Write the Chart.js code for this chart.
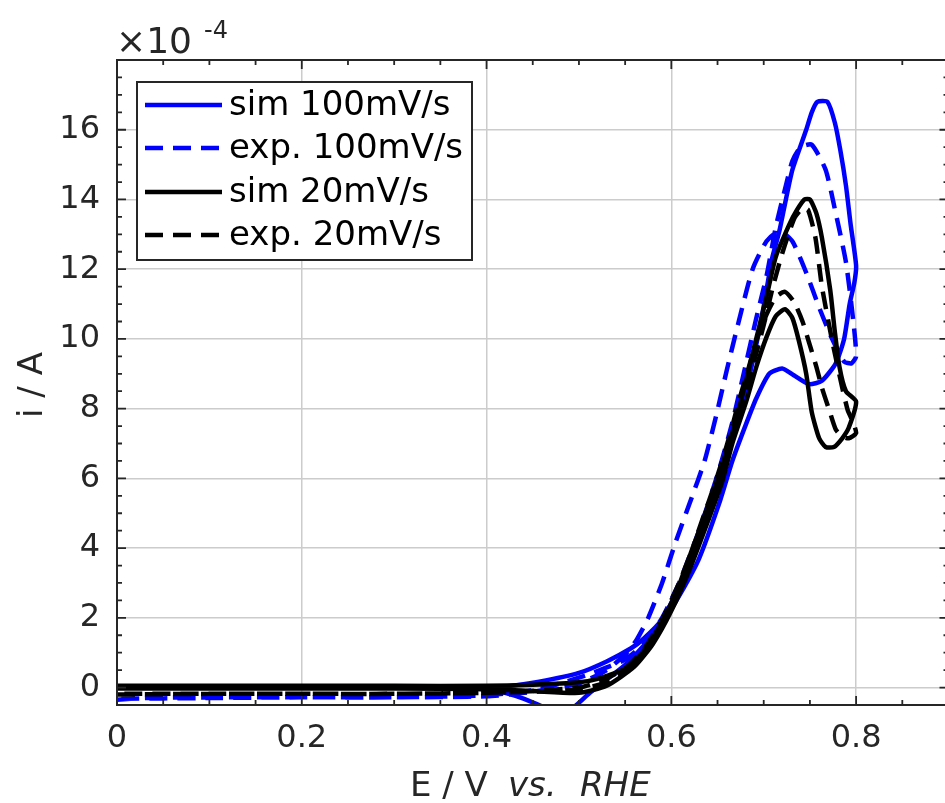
<!DOCTYPE html>
<html>
<head>
<meta charset="utf-8">
<script src="https://cdn.jsdelivr.net/npm/chart.js@4.4.0/dist/chart.umd.min.js"></script>
<style>
  html, body { margin: 0; padding: 0; background: #fff; overflow: hidden; }
  #wrap { width: 955px; height: 803px; }
</style>
</head>
<body>
<div id="wrap"><canvas id="cv" width="955" height="803"></canvas></div>
<script>
// current values are in units of 1e-4 A (see the x10^-4 label)
const xTicks = [0, 0.2, 0.4, 0.6, 0.8];
const yTicks = [0, 2, 4, 6, 8, 10, 12, 14, 16];
const labels = ["sim 100mV/s", "exp. 100mV/s", "sim 20mV/s", "exp. 20mV/s"];

// [E (V), i (1e-4 A)]
const sim100 = [[0,0],[0.1,0],[0.2,0],[0.3,0],[0.38,-0.02],[0.4,-0.05],[0.42,-0.15],[0.44,-0.32],[0.465,-0.6],[0.48,-0.8],[0.495,-0.55],[0.511,-0.17],[0.53,0.23],[0.55,0.65],[0.57,1.2],[0.59,1.85],[0.61,2.7],[0.63,3.7],[0.652,5.3],[0.666,6.5],[0.68,7.5],[0.692,8.3],[0.706,9.0],[0.72,9.15],[0.733,8.95],[0.749,8.7],[0.763,8.8],[0.778,9.3],[0.787,10.0],[0.793,11.0],[0.798,11.6],[0.8,12.1],[0.794,13.3],[0.789,14.4],[0.783,15.4],[0.777,16.2],[0.769,16.8],[0.758,16.8],[0.752,16.5],[0.746,16.0],[0.731,14.85],[0.724,14.0],[0.717,13.1],[0.709,12.3],[0.703,11.4],[0.697,10.5],[0.685,9.0],[0.67,7.5],[0.65,5.8],[0.63,4.3],[0.61,3.0],[0.59,1.95],[0.57,1.4],[0.556,1.12],[0.53,0.75],[0.5,0.42],[0.457,0.17],[0.42,0.03],[0.4,0],[0.3,0],[0.2,0],[0.1,0],[0,0]];
const exp100 = [[0,-0.35],[0.03,-0.3],[0.1,-0.28],[0.2,-0.28],[0.3,-0.28],[0.4,-0.25],[0.45,-0.12],[0.5,0.12],[0.53,0.5],[0.55,0.95],[0.562,1.35],[0.575,2.0],[0.59,3.0],[0.605,4.2],[0.62,5.3],[0.636,6.5],[0.649,7.85],[0.66,9.1],[0.672,10.4],[0.688,12.0],[0.703,12.8],[0.717,13.1],[0.731,12.8],[0.746,11.9],[0.76,10.9],[0.774,10.0],[0.787,9.35],[0.795,9.3],[0.8,9.5],[0.797,10.5],[0.789,12.2],[0.778,13.6],[0.767,14.85],[0.752,15.57],[0.74,15.5],[0.731,15.1],[0.724,14.4],[0.713,13.2],[0.703,11.8],[0.692,10.6],[0.68,9.2],[0.666,7.6],[0.65,6.1],[0.63,4.5],[0.61,3.1],[0.59,2.0],[0.57,1.25],[0.55,0.8],[0.53,0.58],[0.51,0.37],[0.48,0.12],[0.45,-0.08],[0.4,-0.22],[0.3,-0.28],[0.2,-0.28],[0.1,-0.3],[0,-0.32]];
const sim20 = [[0,-0.03],[0.1,-0.03],[0.2,-0.03],[0.3,-0.03],[0.4,-0.05],[0.45,-0.1],[0.5,-0.15],[0.53,0.05],[0.56,0.6],[0.58,1.25],[0.6,2.2],[0.62,3.4],[0.64,4.8],[0.655,5.9],[0.666,7.0],[0.681,8.2],[0.692,9.2],[0.703,10.05],[0.713,10.65],[0.723,10.85],[0.731,10.6],[0.738,9.95],[0.746,9.0],[0.752,7.9],[0.76,7.15],[0.767,6.9],[0.776,6.9],[0.785,7.15],[0.792,7.45],[0.8,8.2],[0.789,8.5],[0.782,9.2],[0.777,10.2],[0.772,11.4],[0.763,12.9],[0.757,13.6],[0.75,14.0],[0.744,14.0],[0.736,13.7],[0.728,13.3],[0.713,12.35],[0.703,11.2],[0.69,9.8],[0.68,8.7],[0.666,7.3],[0.65,5.9],[0.63,4.4],[0.61,3.0],[0.59,1.9],[0.57,1.05],[0.55,0.55],[0.52,0.25],[0.5,0.15],[0.45,0.08],[0.4,0.05],[0.3,0.05],[0.2,0.05],[0.1,0.05],[0,0.05]];
const exp20 = [[0,-0.2],[0.1,-0.18],[0.2,-0.18],[0.3,-0.18],[0.4,-0.15],[0.45,-0.12],[0.5,-0.05],[0.53,0.15],[0.56,0.65],[0.587,1.6],[0.601,2.4],[0.612,3.2],[0.623,4.0],[0.634,4.85],[0.644,5.6],[0.655,6.5],[0.666,7.5],[0.674,8.3],[0.684,9.2],[0.692,9.95],[0.703,10.7],[0.713,11.2],[0.723,11.35],[0.733,11.05],[0.742,10.5],[0.749,9.9],[0.757,9.2],[0.763,8.6],[0.771,7.95],[0.778,7.4],[0.785,7.2],[0.792,7.15],[0.8,7.3],[0.796,7.65],[0.791,7.95],[0.785,8.6],[0.774,9.96],[0.763,11.5],[0.756,12.9],[0.748,13.7],[0.742,13.75],[0.733,13.45],[0.72,12.45],[0.71,11.5],[0.7,10.4],[0.69,9.4],[0.68,8.5],[0.666,7.3],[0.65,6.0],[0.63,4.5],[0.61,3.1],[0.59,1.95],[0.57,1.1],[0.55,0.55],[0.52,0.15],[0.5,0.0],[0.45,-0.1],[0.4,-0.15],[0.3,-0.18],[0.2,-0.18],[0.1,-0.18],[0,-0.18]];

const AXIS = "#262626";
const FONT = "DejaVu Sans";

const toXY = (arr) => arr.map(([x, y]) => ({ x, y }));

function series(label, data, color, dashed, order) {
  return {
    label,
    data: toXY(data),
    borderColor: color,
    backgroundColor: color,
    borderWidth: 4.5,
    borderDash: dashed ? [18, 10] : [],
    borderCapStyle: "butt",
    pointRadius: 0,
    tension: 0.2,
    fill: false,
    clip: 0,
    order,
  };
}

// box, inner ticks, axis titles and the x10^-4 factor
const frame = {
  id: "frame",
  afterDatasetsDraw(chart) {
    const { ctx, chartArea: a, scales: { x, y } } = chart;
    ctx.save();
    ctx.strokeStyle = AXIS;
    ctx.lineWidth = 2;
    ctx.strokeRect(a.left, a.top, a.right - a.left, a.bottom - a.top);

    ctx.lineWidth = 1.8;
    ctx.beginPath();
    for (let k = 0; k <= 18; k++) {
      const px = x.getPixelForValue(k * 0.05);
      const len = k % 4 === 0 ? 9 : 5;
      ctx.moveTo(px, a.bottom); ctx.lineTo(px, a.bottom - len);
      ctx.moveTo(px, a.top); ctx.lineTo(px, a.top + len);
    }
    for (let k = -1; k <= 36; k++) {
      const py = y.getPixelForValue(k * 0.5);
      const len = k % 4 === 0 ? 9 : 5;
      ctx.moveTo(a.left, py); ctx.lineTo(a.left + len, py);
      ctx.moveTo(a.right, py); ctx.lineTo(a.right - len, py);
    }
    ctx.stroke();

    ctx.fillStyle = AXIS;
    ctx.textBaseline = "alphabetic";
    ctx.textAlign = "left";
    ctx.font = `34px "${FONT}"`;
    ctx.fillText("E / V", 410, 796);
    ctx.font = `italic 34px "${FONT}"`;
    ctx.fillText("vs.", 508, 796);
    ctx.fillText("RHE", 580, 796);

    ctx.save();
    ctx.translate(42, 385);
    ctx.rotate(-Math.PI / 2);
    ctx.textAlign = "center";
    ctx.font = `34px "${FONT}"`;
    ctx.fillText("i / A", 0, 0);
    ctx.restore();

    ctx.font = `36px "${FONT}"`;
    ctx.fillText("\u00d710", 116, 53);
    ctx.font = `24px "${FONT}"`;
    ctx.fillText("-4", 204, 38);
    ctx.restore();
  },
};

// MATLAB style boxed legend in the top left corner
const boxLegend = {
  id: "boxLegend",
  afterDraw(chart) {
    const { ctx } = chart;
    const sets = chart.data.datasets;
    ctx.save();
    ctx.fillStyle = "#fff";
    ctx.fillRect(137, 82, 335, 178);
    ctx.strokeStyle = AXIS;
    ctx.lineWidth = 2;
    ctx.strokeRect(137, 82, 335, 178);
    const rowY = [105, 148, 192, 235];
    sets.forEach((ds, k) => {
      ctx.strokeStyle = ds.borderColor;
      ctx.lineWidth = 4.5;
      ctx.setLineDash(ds.borderDash);
      ctx.beginPath();
      ctx.moveTo(145, rowY[k]);
      ctx.lineTo(222, rowY[k]);
      ctx.stroke();
      ctx.setLineDash([]);
      ctx.fillStyle = "#000";
      ctx.font = `34px "${FONT}"`;
      ctx.textBaseline = "middle";
      ctx.fillText(ds.label, 229, rowY[k] + 1);
    });
    ctx.restore();
  },
};

new Chart(document.getElementById("cv"), {
  type: "line",
  data: {
    datasets: [
      series(labels[0], sim100, "#0000ff", false, 3),
      series(labels[1], exp100, "#0000ff", true, 2),
      series(labels[2], sim20, "#000000", false, 1),
      series(labels[3], exp20, "#000000", true, 0),
    ],
  },
  options: {
    responsive: false,
    animation: false,
    layout: { padding: { top: 60, right: 6.5, left: 0, bottom: 0 } },
    plugins: { legend: { display: false }, tooltip: { enabled: false } },
    scales: {
      x: {
        type: "linear",
        min: 0,
        max: 0.9,
        afterBuildTicks: (s) => { s.ticks = xTicks.map((v) => ({ value: v })); },
        afterFit: (s) => { s.height = 98; },
        ticks: { color: AXIS, font: { family: FONT, size: 32 }, padding: 14, maxRotation: 0, callback: (v) => String(v) },
        grid: { color: "#cccccc", lineWidth: 1.5, drawTicks: false },
        border: { display: false },
      },
      y: {
        type: "linear",
        min: -0.5,
        max: 18,
        afterBuildTicks: (s) => { s.ticks = yTicks.map((v) => ({ value: v })); },
        afterFit: (s) => { s.width = 117; },
        ticks: { color: AXIS, font: { family: FONT, size: 32 }, padding: 17, callback: (v) => String(v) },
        grid: { color: "#cccccc", lineWidth: 1.5, drawTicks: false },
        border: { display: false },
      },
    },
  },
  plugins: [frame, boxLegend],
});
</script>
</body>
</html>
